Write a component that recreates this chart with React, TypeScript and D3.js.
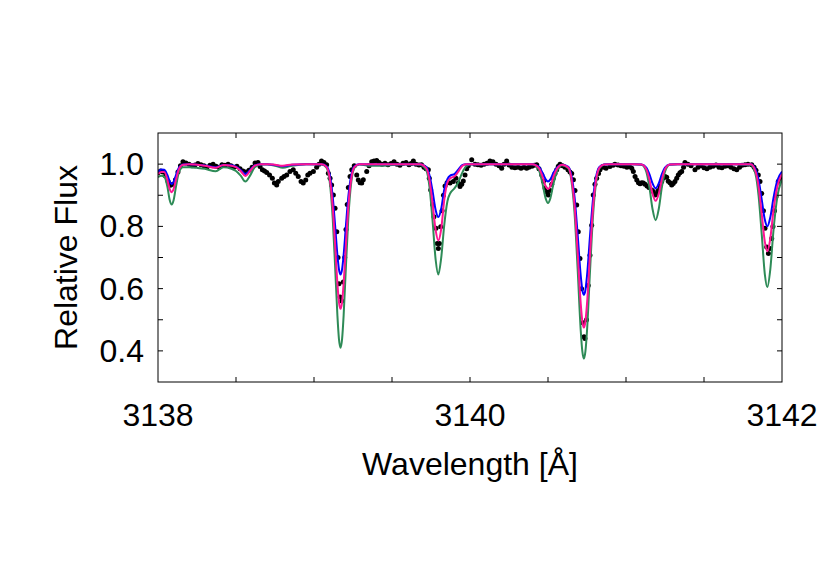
import React from 'react';
import * as d3 from 'd3';

// Observed spectrum (wavelength in Å, relative flux)
const dataWl = [
  3138.000, 3138.016, 3138.032, 3138.048, 3138.064, 3138.080, 3138.096, 3138.112, 3138.128, 3138.144,
  3138.160, 3138.179, 3138.199, 3138.218, 3138.237, 3138.256, 3138.276, 3138.295, 3138.314, 3138.333,
  3138.353, 3138.372, 3138.391, 3138.410, 3138.429, 3138.449, 3138.468, 3138.487, 3138.506, 3138.526,
  3138.545, 3138.564, 3138.583, 3138.603, 3138.622, 3138.641, 3138.654, 3138.669, 3138.683, 3138.697,
  3138.715, 3138.733, 3138.746, 3138.761, 3138.771, 3138.793, 3138.808, 3138.825, 3138.846, 3138.867,
  3138.883, 3138.899, 3138.917, 3138.931, 3138.947, 3138.960, 3138.974, 3138.996, 3139.017, 3139.032,
  3139.048, 3139.064, 3139.081, 3139.092, 3139.103, 3139.113, 3139.124, 3139.135, 3139.146, 3139.154,
  3139.160, 3139.167, 3139.178, 3139.188, 3139.197, 3139.205, 3139.213, 3139.220, 3139.231, 3139.242,
  3139.258, 3139.274, 3139.284, 3139.295, 3139.306, 3139.316, 3139.338, 3139.353, 3139.370, 3139.385,
  3139.402, 3139.417, 3139.436, 3139.455, 3139.474, 3139.494, 3139.513, 3139.532, 3139.551, 3139.571,
  3139.590, 3139.609, 3139.622, 3139.637, 3139.654, 3139.673, 3139.689, 3139.705, 3139.718, 3139.733,
  3139.739, 3139.748, 3139.760, 3139.769, 3139.782, 3139.790, 3139.797, 3139.804, 3139.812, 3139.821,
  3139.830, 3139.840, 3139.853, 3139.872, 3139.893, 3139.910, 3139.925, 3139.936, 3139.947, 3139.957,
  3139.968, 3139.979, 3139.989, 3140.011, 3140.032, 3140.051, 3140.071, 3140.090, 3140.109, 3140.128,
  3140.147, 3140.167, 3140.186, 3140.203, 3140.218, 3140.235, 3140.250, 3140.269, 3140.288, 3140.308,
  3140.327, 3140.346, 3140.363, 3140.378, 3140.397, 3140.413, 3140.428, 3140.442, 3140.460, 3140.471,
  3140.481, 3140.492, 3140.502, 3140.513, 3140.524, 3140.534, 3140.545, 3140.556, 3140.566, 3140.577,
  3140.593, 3140.609, 3140.628, 3140.641, 3140.652, 3140.663, 3140.673, 3140.684, 3140.694, 3140.705,
  3140.715, 3140.724, 3140.731, 3140.737, 3140.747, 3140.758, 3140.769, 3140.780, 3140.790, 3140.801,
  3140.812, 3140.824, 3140.833, 3140.853, 3140.872, 3140.897, 3140.917, 3140.929, 3140.949, 3140.968,
  3140.987, 3141.006, 3141.022, 3141.037, 3141.047, 3141.058, 3141.069, 3141.080, 3141.090, 3141.101,
  3141.111, 3141.122, 3141.135, 3141.147, 3141.165, 3141.175, 3141.186, 3141.197, 3141.207, 3141.218,
  3141.229, 3141.239, 3141.250, 3141.261, 3141.271, 3141.282, 3141.293, 3141.303, 3141.314, 3141.325,
  3141.335, 3141.346, 3141.357, 3141.369, 3141.378, 3141.397, 3141.417, 3141.442, 3141.462, 3141.481,
  3141.500, 3141.519, 3141.538, 3141.558, 3141.577, 3141.596, 3141.615, 3141.635, 3141.654, 3141.673,
  3141.692, 3141.710, 3141.728, 3141.744, 3141.763, 3141.782, 3141.806, 3141.821, 3141.833, 3141.848,
  3141.859, 3141.870, 3141.881, 3141.891, 3141.902, 3141.913, 3141.923, 3141.934, 3141.942, 3141.952,
  3141.962, 3141.976, 3141.992, 3142.000,
];
const dataFlux = [
  0.972, 0.978, 0.975, 0.962, 0.945, 0.932, 0.935, 0.950, 0.975, 0.995,
  1.008, 1.004, 1.000, 0.995, 0.997, 1.002, 0.998, 0.995, 0.990, 0.996,
  1.000, 0.993, 0.990, 0.998, 0.996, 1.000, 0.995, 0.990, 0.993, 0.985,
  0.978, 0.975, 0.980, 0.990, 1.004, 1.005, 0.992, 0.982, 0.978, 0.973,
  0.965, 0.955, 0.939, 0.933, 0.944, 0.955, 0.960, 0.965, 0.976, 0.982,
  0.971, 0.960, 0.944, 0.939, 0.949, 0.965, 0.971, 0.976, 0.990, 1.000,
  1.010, 1.005, 0.998, 0.971, 0.955, 0.933, 0.901, 0.858, 0.783, 0.700,
  0.616, 0.573, 0.560, 0.621, 0.700, 0.790, 0.870, 0.925, 0.960, 0.982,
  0.995, 0.965, 0.949, 0.940, 0.939, 0.950, 0.976, 0.995, 1.008, 1.010,
  1.012, 1.005, 1.000, 1.003, 0.998, 1.002, 1.008, 1.000, 0.996, 1.003,
  1.005, 0.998, 1.002, 1.010, 1.000, 0.997, 0.998, 0.990, 0.985, 0.982,
  0.955, 0.917, 0.870, 0.831, 0.794, 0.745, 0.729, 0.745, 0.799, 0.850,
  0.900, 0.930, 0.940, 0.939, 0.944, 0.955, 0.939, 0.928, 0.935, 0.946,
  0.965, 0.985, 0.995, 1.014, 1.000, 0.998, 0.996, 1.000, 1.003, 1.010,
  1.008, 1.000, 0.995, 0.987, 1.000, 1.010, 0.997, 0.990, 0.988, 0.990,
  0.987, 0.990, 0.987, 0.990, 0.993, 0.996, 0.998, 0.985, 0.965, 0.945,
  0.923, 0.910, 0.901, 0.915, 0.935, 0.955, 0.970, 0.982, 0.993, 1.000,
  0.995, 0.990, 0.982, 0.975, 0.970, 0.950, 0.915, 0.869, 0.783, 0.697,
  0.600, 0.490, 0.445, 0.440, 0.500, 0.610, 0.707, 0.804, 0.901, 0.935,
  0.955, 0.970, 0.982, 0.990, 0.987, 0.992, 0.996, 1.000, 0.997, 0.995,
  0.993, 0.990, 0.992, 0.987, 0.976, 0.960, 0.949, 0.940, 0.937, 0.940,
  0.939, 0.935, 0.930, 0.925, 0.917, 0.912, 0.901, 0.905, 0.915, 0.930,
  0.944, 0.955, 0.960, 0.958, 0.945, 0.940, 0.933, 0.938, 0.944, 0.955,
  0.965, 0.972, 0.976, 0.990, 1.005, 1.000, 0.995, 0.982, 0.990, 0.995,
  0.988, 0.985, 0.990, 0.993, 0.997, 0.990, 0.988, 0.993, 0.995, 0.990,
  0.985, 0.982, 0.990, 0.996, 0.998, 1.000, 0.998, 0.990, 0.980, 0.965,
  0.944, 0.906, 0.850, 0.794, 0.734, 0.713, 0.729, 0.761, 0.800, 0.850,
  0.896, 0.944, 0.955, 0.955,
];

// Synthetic spectra on a common wavelength grid
const modelWl = [
  3138.000, 3138.020, 3138.040, 3138.060, 3138.075, 3138.088, 3138.100, 3138.115, 3138.135, 3138.160,
  3138.200, 3138.250, 3138.300, 3138.370, 3138.420, 3138.470, 3138.500, 3138.530, 3138.560, 3138.590,
  3138.620, 3138.660, 3138.700, 3138.750, 3138.800, 3138.860, 3138.950, 3139.050, 3139.080, 3139.100,
  3139.120, 3139.135, 3139.150, 3139.160, 3139.170, 3139.180, 3139.190, 3139.205, 3139.220, 3139.240,
  3139.260, 3139.290, 3139.350, 3139.450, 3139.550, 3139.650, 3139.680, 3139.720, 3139.740, 3139.760,
  3139.780, 3139.797, 3139.815, 3139.835, 3139.855, 3139.875, 3139.900, 3139.925, 3139.950, 3139.975,
  3140.000, 3140.100, 3140.200, 3140.300, 3140.400, 3140.440, 3140.465, 3140.485, 3140.500, 3140.515,
  3140.535, 3140.560, 3140.590, 3140.630, 3140.650, 3140.670, 3140.690, 3140.710, 3140.720, 3140.730,
  3140.740, 3140.750, 3140.770, 3140.790, 3140.810, 3140.830, 3140.860, 3140.900, 3141.000, 3141.050,
  3141.100, 3141.130, 3141.150, 3141.170, 3141.190, 3141.210, 3141.230, 3141.250, 3141.280, 3141.330,
  3141.450, 3141.600, 3141.700, 3141.800, 3141.830, 3141.850, 3141.870, 3141.890, 3141.906, 3141.925,
  3141.945, 3141.970, 3142.000,
];
const fluxBlue = [
  0.975, 0.983, 0.982, 0.965, 0.945, 0.935, 0.943, 0.964, 0.990, 0.999,
  1.000, 0.998, 0.996, 0.990, 0.997, 0.996, 0.992, 0.981, 0.968, 0.981,
  0.996, 1.000, 1.000, 0.997, 0.993, 0.998, 1.000, 1.000, 0.993, 0.968,
  0.895, 0.805, 0.708, 0.662, 0.645, 0.662, 0.708, 0.805, 0.895, 0.968,
  0.993, 1.000, 1.000, 1.000, 1.000, 1.000, 1.000, 0.991, 0.965, 0.913,
  0.852, 0.830, 0.855, 0.918, 0.952, 0.964, 0.968, 0.982, 0.997, 1.000,
  1.000, 1.000, 1.000, 1.000, 1.000, 0.992, 0.972, 0.951, 0.944, 0.951,
  0.972, 0.990, 0.998, 0.991, 0.964, 0.895, 0.774, 0.640, 0.596, 0.580,
  0.596, 0.640, 0.774, 0.895, 0.964, 0.991, 0.999, 1.000, 1.000, 1.000,
  0.999, 0.989, 0.968, 0.938, 0.922, 0.938, 0.968, 0.989, 0.999, 1.000,
  1.000, 1.000, 1.000, 1.000, 0.984, 0.949, 0.886, 0.821, 0.800, 0.829,
  0.890, 0.947, 0.976,
];
const fluxPink = [
  0.968, 0.975, 0.975, 0.950, 0.920, 0.910, 0.920, 0.950, 0.985, 0.998,
  1.000, 0.998, 0.995, 0.988, 0.997, 0.995, 0.990, 0.978, 0.962, 0.978,
  0.995, 1.000, 1.000, 0.998, 0.995, 0.999, 1.000, 1.000, 0.991, 0.957,
  0.863, 0.744, 0.617, 0.557, 0.535, 0.557, 0.617, 0.744, 0.863, 0.957,
  0.991, 1.000, 1.000, 1.000, 1.000, 1.000, 1.000, 0.987, 0.950, 0.874,
  0.787, 0.755, 0.790, 0.885, 0.940, 0.955, 0.960, 0.976, 0.994, 1.000,
  1.000, 1.000, 1.000, 1.000, 1.000, 0.989, 0.960, 0.929, 0.920, 0.929,
  0.960, 0.987, 0.998, 0.989, 0.955, 0.869, 0.717, 0.550, 0.495, 0.475,
  0.495, 0.550, 0.717, 0.869, 0.955, 0.989, 0.999, 1.000, 1.000, 1.000,
  0.999, 0.984, 0.951, 0.905, 0.882, 0.905, 0.951, 0.984, 0.999, 1.000,
  1.000, 1.000, 1.000, 1.000, 0.977, 0.928, 0.840, 0.750, 0.720, 0.761,
  0.850, 0.928, 0.968,
];
const fluxGreen = [
  0.958, 0.963, 0.960, 0.928, 0.885, 0.870, 0.884, 0.927, 0.975, 0.990,
  0.990, 0.988, 0.985, 0.977, 0.990, 0.985, 0.978, 0.963, 0.944, 0.963,
  0.990, 0.999, 0.999, 0.995, 0.988, 0.995, 1.000, 0.999, 0.989, 0.946,
  0.826, 0.675, 0.514, 0.438, 0.410, 0.438, 0.514, 0.675, 0.826, 0.946,
  0.989, 0.999, 0.995, 0.995, 0.999, 0.999, 0.998, 0.980, 0.928, 0.818,
  0.692, 0.645, 0.697, 0.805, 0.880, 0.908, 0.922, 0.942, 0.972, 0.993,
  0.999, 1.000, 1.000, 1.000, 1.000, 0.983, 0.937, 0.890, 0.875, 0.890,
  0.937, 0.980, 0.996, 0.987, 0.947, 0.844, 0.663, 0.464, 0.399, 0.375,
  0.399, 0.464, 0.663, 0.844, 0.947, 0.987, 0.999, 1.000, 1.000, 1.000,
  0.998, 0.976, 0.926, 0.856, 0.820, 0.856, 0.926, 0.976, 0.998, 1.000,
  1.000, 1.000, 1.000, 0.997, 0.968, 0.898, 0.775, 0.646, 0.605, 0.662,
  0.785, 0.895, 0.950,
];

const xTicks = [3138.5, 3139, 3139.5, 3140, 3140.5, 3141, 3141.5];
const xTickLabels = [3138, 3140, 3142];
const yTicks = [0.4, 0.5, 0.6, 0.7, 0.8, 0.9, 1.0];
const yTickLabels = [0.4, 0.6, 0.8, 1.0];

const FONT = '"Liberation Sans", Arial, Helvetica, sans-serif';

export default function App() {
  const W = 830;
  const H = 581;
  const left = 158, right = 782, top = 133, bottom = 382;
  const x = d3.scaleLinear().domain([3138, 3142]).range([left, right]);
  const y = d3.scaleLinear().domain([0.3, 1.1]).range([bottom, top]);
  const tickLen = 5;
  const fs = 32;

  const modelPath = (vals: number[]) =>
    d3
      .line<number>()
      .x((_, i) => x(modelWl[i]))
      .y((v) => y(v))
      .curve(d3.curveMonotoneX)(vals) || '';

  const series = [
    { vals: fluxGreen, color: '#2e8b57' },
    { vals: fluxBlue, color: '#0000ff' },
    { vals: fluxPink, color: '#ff1493' },
  ];

  return (
    <svg
      width={W}
      height={H}
      style={{ position: 'absolute', left: 0, top: 0, background: '#ffffff' }}
      fontFamily={FONT}
    >
      <defs>
        <clipPath id="plotclip">
          <rect x={left} y={top} width={right - left} height={bottom - top} />
        </clipPath>
      </defs>
      <g clipPath="url(#plotclip)">
        {dataWl.map((w, i) => (
          <circle key={i} cx={x(w)} cy={y(dataFlux[i])} r={2.5} fill="#000" />
        ))}
        {series.map((s, i) => (
          <path key={i} d={modelPath(s.vals)} fill="none" stroke={s.color} strokeWidth={2} strokeLinejoin="round" />
        ))}
      </g>
      <g stroke="#000" strokeWidth={1}>
        {xTicks.map((t) => (
          <g key={'x' + t}>
            <line x1={x(t)} x2={x(t)} y1={bottom} y2={bottom - tickLen} />
            <line x1={x(t)} x2={x(t)} y1={top} y2={top + tickLen} />
          </g>
        ))}
        {yTicks.map((t) => (
          <g key={'y' + t}>
            <line x1={left} x2={left + tickLen} y1={y(t)} y2={y(t)} />
            <line x1={right} x2={right - tickLen} y1={y(t)} y2={y(t)} />
          </g>
        ))}
      </g>
      <rect x={left} y={top} width={right - left} height={bottom - top} fill="none" stroke="#000" strokeWidth={1} />
      {xTickLabels.map((t) => (
        <text key={'xl' + t} x={x(t)} y={426} textAnchor="middle" fontSize={fs} fill="#000">
          {t}
        </text>
      ))}
      {yTickLabels.map((t) => (
        <text key={'yl' + t} x={144} y={y(t) + 11} textAnchor="end" fontSize={fs} fill="#000">
          {t.toFixed(1)}
        </text>
      ))}
      <text x={(left + right) / 2} y={475} textAnchor="middle" fontSize={fs} fill="#000">
        Wavelength [Å]
      </text>
      <text
        transform={`translate(77, ${(top + bottom) / 2}) rotate(-90)`}
        textAnchor="middle"
        fontSize={fs}
        fill="#000"
      >
        Relative Flux
      </text>
    </svg>
  );
}
